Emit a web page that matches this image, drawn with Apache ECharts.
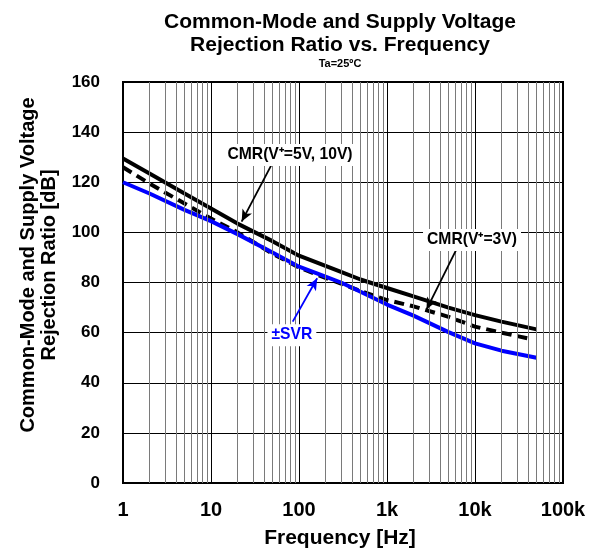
<!DOCTYPE html>
<html><head><meta charset="utf-8">
<script src="https://cdn.jsdelivr.net/npm/echarts@6/dist/echarts.min.js"></script>
<style>html,body{margin:0;padding:0;background:#fff}#c{width:595px;height:550px}</style>
</head><body><div id="c"></div>
<script>
// ---- data ----
const freqs = [1,2,5,10,20,50,100,200,300,500,1000,2000,5000,10000,20000,50000];
const cmr5v10v = [129.5,123.5,115.5,109.5,103.5,96.5,90.7,86.6,84.2,81.2,77.8,74.5,70,67,64.4,61.3];
const freqsCmr3v = [1,2,5,10,20,50,100,200,300,500,1000,2000,5000,10000,20000,45000];
const cmr3v = [126,119.5,111.5,105.5,100,91.5,86,81.8,79.6,76.6,73,70.5,66.3,62.4,60,57.3];
const svr = [120,115.5,109,104.5,99.3,92,86.3,82.3,80,76.3,71.2,66.8,60.2,55.7,52.8,50];
const xTickLabels = {1:'1',10:'10',100:'100',1000:'1k',10000:'10k',100000:'100k'};
const yTicks = [0,20,40,60,80,100,120,140,160];
const minorFreqs = [2,3,4,5,6,7,8,9,20,30,40,50,60,70,80,90,200,300,400,500,600,700,800,900,
  2000,3000,4000,5000,6000,7000,8000,9000,20000,30000,40000,50000,60000,70000,80000,90000];
// annotations: [label, labelFreq, labelDb, arrowFromFreq, arrowFromDb, arrowToFreq, arrowToDb, color]
const annCmr5 = ['CMR(V\u207A=5V, 10V)', 79, 130.9, 50.7, 128.1, 22.3, 104.3, '#000'];
const annCmr3 = ['CMR(V\u207A=3V)', 9250, 97, 6170, 93.3, 2810, 69.2, '#000'];
const annSvr = ['\u00B1SVR', 83, 59, 84.8, 64.4, 161, 81.7, '#0000ff'];

const FONT = '"Liberation Sans", Arial, sans-serif';
const chart = echarts.init(document.getElementById('c'), null, {renderer:'canvas'});

function zip(xs, ys){ return xs.map((x,i)=>[x, ys[i]]); }
function arrowSeries(a){
  return {type:'line', data:[], silent:true, z:5,
    markLine:{silent:true, symbol:['none','arrow'], symbolSize:[8,12], animation:false,
      label:{show:false}, lineStyle:{color:a[7], width:1.8, type:'solid'},
      data:[[{coord:[a[3],a[4]]},{coord:[a[5],a[6]]}]]}};
}
const lineCommon = {type:'line', smooth:false, showSymbol:false, symbol:'none'};

const option = {
  animation:false,
  grid:{left:123, right:32, top:82, bottom:67, show:true, borderColor:'#000', borderWidth:2, backgroundColor:'transparent'},
  xAxis:{type:'log', logBase:10, min:1, max:100000,
    axisLine:{show:false}, axisTick:{show:false},
    splitLine:{show:true, lineStyle:{color:'#000', width:1}},
    axisLabel:{color:'#000', fontFamily:FONT, fontWeight:'bold', fontSize:20, margin:17,
      formatter:v=>xTickLabels[Math.round(v)] || ''}},
  yAxis:{type:'value', min:0, max:160, interval:20,
    axisLine:{show:false}, axisTick:{show:false},
    splitLine:{show:true, lineStyle:{color:'#000', width:1}},
    axisLabel:{color:'#000', fontFamily:FONT, fontWeight:'bold', fontSize:17, margin:23,
      formatter:v=>yTicks.includes(v)?String(v):''}},
  series:[
    {type:'line', data:[], silent:true, z:1,
      markLine:{silent:true, symbol:'none', animation:false, label:{show:false},
        lineStyle:{color:'#7a7a7a', width:1, type:'solid'},
        data:minorFreqs.map(v=>({xAxis:v}))}},
    Object.assign({name:'CMR 3V', data:zip(freqsCmr3v, cmr3v), z:3,
      lineStyle:{color:'#000', width:4, type:[10,6], join:'round'}}, lineCommon),
    Object.assign({name:'SVR', data:zip(freqs, svr), z:4,
      lineStyle:{color:'#0000ff', width:4, join:'round'}}, lineCommon),
    Object.assign({name:'CMR 5V 10V', data:zip(freqs, cmr5v10v), z:4,
      lineStyle:{color:'#000', width:4, join:'round'}}, lineCommon),
    arrowSeries(annCmr5), arrowSeries(annCmr3), arrowSeries(annSvr)
  ]
};
chart.setOption(option);

function labelGraphic(a){
  const p = chart.convertToPixel({gridIndex:0}, [a[1], a[2]]);
  return {type:'text', x:p[0], y:p[1], z:100,
    style:{text:a[0], fill:a[7], font:'bold 15.7px '+FONT, align:'center', verticalAlign:'middle',
      backgroundColor:'#fff', padding:[3,4,3,4]}};
}
const cx = 340;
chart.setOption({graphic:[
  {type:'text', x:cx, y:22, style:{text:'Common-Mode and Supply Voltage', fill:'#000', font:'bold 21px '+FONT, align:'center', verticalAlign:'middle'}},
  {type:'text', x:cx, y:45, style:{text:'Rejection Ratio vs. Frequency', fill:'#000', font:'bold 21px '+FONT, align:'center', verticalAlign:'middle'}},
  {type:'text', x:cx, y:64, style:{text:'Ta=25\u00BAC', fill:'#000', font:'bold 11px '+FONT, align:'center', verticalAlign:'middle'}},
  {type:'text', x:cx, y:538, style:{text:'Frequency [Hz]', fill:'#000', font:'bold 21px '+FONT, align:'center', verticalAlign:'middle'}},
  {type:'text', x:28, y:265, rotation:Math.PI/2, style:{text:'Common-Mode and Supply Voltage', fill:'#000', font:'bold 20px '+FONT, align:'center', verticalAlign:'middle'}},
  {type:'text', x:49, y:265, rotation:Math.PI/2, style:{text:'Rejection Ratio [dB]', fill:'#000', font:'bold 20px '+FONT, align:'center', verticalAlign:'middle'}},
  labelGraphic(annCmr5), labelGraphic(annCmr3), labelGraphic(annSvr)
]});
</script></body></html>
